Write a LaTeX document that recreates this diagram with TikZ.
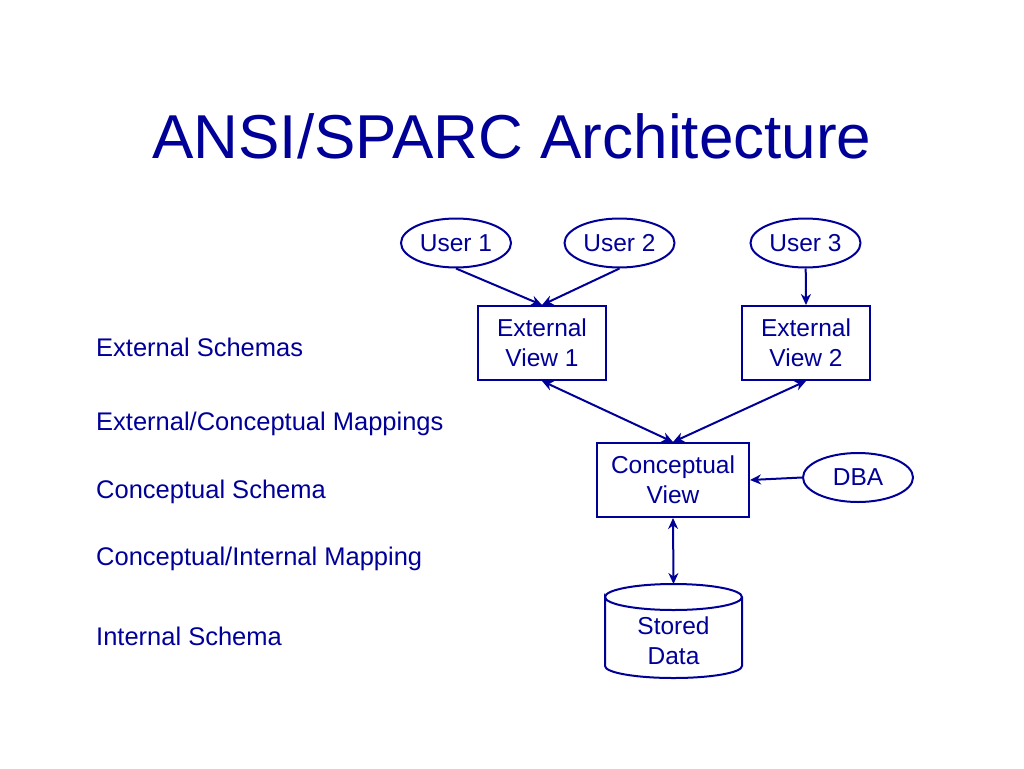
\documentclass[tikz,border=0pt]{standalone}
\usepackage{fontspec}
\setmainfont{Liberation Sans}
\usetikzlibrary{arrows.meta,shapes.geometric}
\definecolor{navy}{RGB}{0,0,153}
\begin{document}
\begin{tikzpicture}[x=1pt,y=-1pt,
  every node/.style={text=navy,font=\fontsize{24.5}{30}\selectfont},
  ell/.style={draw=navy,line width=2pt,ellipse,minimum width=110pt,minimum height=49pt,inner sep=0pt},
  box/.style={draw=navy,line width=2pt,rectangle,align=center,inner sep=0pt},
  lbl/.style={anchor=west,inner sep=0pt,font=\fontsize{25.5}{30}\selectfont},
  conn/.style={draw=navy,line width=2pt,-{Stealth[length=11pt,width=10pt]}},
  biconn/.style={draw=navy,line width=2pt,{Stealth[length=11pt,width=10pt]}-{Stealth[length=11pt,width=10pt]}}]
\useasboundingbox (0,0) rectangle (1024,768);
\fill[white] (0,0) rectangle (1024,768);
\node[font=\fontsize{62}{70}\selectfont] (title) at (512,136) {ANSI/SPARC Architecture};
% users
\node[ell] (u1) at (456,243) {User 1};
\node[ell] (u2) at (619.5,243) {User 2};
\node[ell] (u3) at (805.5,243) {User 3};
\node[ell] (dba) at (858,477.5) {DBA};
% boxes
\node[box,minimum width=128pt,minimum height=74pt] (ev1) at (542,343) {External\\View 1};
\node[box,minimum width=128pt,minimum height=74pt] (ev2) at (806,343) {External\\View 2};
\node[box,minimum width=152pt,minimum height=74pt] (cv) at (673,480) {Conceptual\\View};
% cylinder
\draw[navy,line width=2pt] (605,597) arc[start angle=180,end angle=360,x radius=68.5,y radius=13]
  arc[start angle=0,end angle=180,x radius=68.5,y radius=13] -- (605,666)
  arc[start angle=180,end angle=0,x radius=68.5,y radius=12] -- (742,597);
\coordinate (sdtop) at (673.5,584);
\node[align=center,inner sep=0pt] (sd) at (673.5,641) {Stored\\Data};
% left labels
\node[lbl] (l1) at (96,347) {External Schemas};
\node[lbl] (l2) at (96,424) {External/Conceptual Mappings};
\node[lbl] (l3) at (96,492) {Conceptual Schema};
\node[lbl] (l4) at (96,559) {Conceptual/Internal Mapping};
\node[lbl] (l5) at (96,636) {Internal Schema};
% connectors
\draw[conn] (u1.south) -- (ev1.north);
\draw[conn] (u2.south) -- (ev1.north);
\draw[conn] (u3) -- (ev2.north);
\draw[biconn] (ev1.south) -- (cv.north);
\draw[biconn] (ev2.south) -- (cv.north);
\draw[conn] (dba.west) -- (cv.east);
\draw[biconn] (cv.south) -- (sdtop);
\end{tikzpicture}
\end{document}
